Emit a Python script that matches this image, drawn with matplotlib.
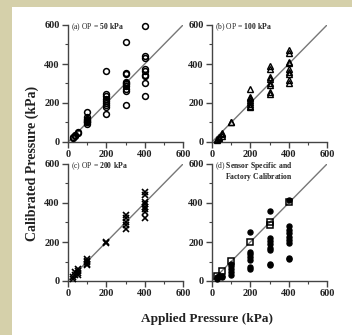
import matplotlib
matplotlib.use("Agg")
import matplotlib.pyplot as plt
from matplotlib.patches import Rectangle
from matplotlib.ticker import MultipleLocator

plt.rcParams['font.family'] = ['Liberation Serif', 'DejaVu Serif']
plt.rcParams['mathtext.fontset'] = 'custom'
plt.rcParams['mathtext.rm'] = 'Liberation Serif'
plt.rcParams['mathtext.bf'] = 'Liberation Serif:bold'

# ---- data (applied pressure level -> calibrated values) ----
a_levels = [25, 35, 50, 100, 200, 300, 400]
a_vals = [[22, 28], [32, 38], [45, 52],
          [155, 130, 120, 115, 110, 105, 100, 90],
          [365, 245, 235, 220, 210, 200, 190, 180, 145],
          [515, 355, 350, 310, 300, 295, 285, 270, 260, 190],
          [595, 440, 430, 375, 365, 345, 340, 300, 237]]

b_levels = [25, 35, 50, 100, 200, 300, 400]
b_vals = [[10, 15], [20, 27], [31, 41, 48],
          [100, 104],
          [270, 232, 224, 215, 203, 195, 185, 178],
          [390, 373, 332, 321, 304, 292, 258, 246],
          [472, 458, 412, 403, 373, 361, 349, 318, 304]]

c_levels = [25, 35, 50, 100, 200, 300, 400]
c_vals = [[10, 19], [31, 45], [31, 41, 53, 62],
          [114, 105, 100, 88, 80],
          [200, 197],
          [338, 321, 303, 286, 269],
          [455, 441, 407, 393, 381, 369, 355, 324]]

d_sq_levels = [25, 50, 100, 200, 300, 400]
d_sq_vals = [[28], [49], [103], [198], [289, 303], [403]]

d_dot_levels = [25, 35, 50, 100, 200, 300, 400]
d_dot_vals = [[10, 19], [24], [19, 28],
              [89, 77, 63, 45, 31],
              [249, 150, 136, 122, 110, 71, 63],
              [358, 219, 205, 188, 170, 158, 89, 80],
              [415, 280, 263, 245, 228, 210, 193, 118, 111]]

ticks = [0, 200, 400, 600]
titles = [r'(a) OP = $\mathbf{50\ kPa}$',
          r'(b) OP = $\mathbf{100\ kPa}$',
          r'(c) OP = $\mathbf{200\ kPa}$',
          '(d) $\\mathbf{Sensor\\ Specific\\ and}$\n'
          '$\\mathbf{Factory\\ Calibration}$']


def flatten(levels, vals):
    xs, ys = [], []
    for lv, vs in zip(levels, vals):
        for v in vs:
            xs.append(lv)
            ys.append(v)
    return xs, ys


W, H = 352, 335
fig = plt.figure(figsize=(W / 100, H / 100), dpi=100)
fig.patch.set_facecolor('#d5d0aa')
fig.add_artist(Rectangle((12 / W, 0), 1 - 12 / W, (H - 7) / H,
                         transform=fig.transFigure, facecolor='white',
                         edgecolor='none', zorder=0))


def make_ax(left_px, top_px, ttl):
    w = 115 / W
    h = 117 / H
    ax = fig.add_axes([left_px / W, 1 - (top_px + 117) / H, w, h])
    ax.set_facecolor('none')
    for s in ['top', 'right']:
        ax.spines[s].set_visible(False)
    for s in ['left', 'bottom']:
        ax.spines[s].set_color('#444444')
        ax.spines[s].set_linewidth(1.0)
    ax.set_xlim(0, 600)
    ax.set_ylim(0, 600)
    ax.set_xticks(ticks)
    ax.set_yticks(ticks)
    ax.xaxis.set_minor_locator(MultipleLocator(100))
    ax.yaxis.set_minor_locator(MultipleLocator(100))
    ax.tick_params(which='major', direction='out', length=4, width=1,
                   color='#444444', labelsize=7.5, pad=2)
    ax.tick_params(which='minor', direction='out', length=2, width=0.8,
                   color='#444444')
    for lab in ax.get_xticklabels() + ax.get_yticklabels():
        lab.set_fontweight('bold')
        lab.set_color('#222222')
    ax.plot([0, 600], [0, 600], color='#777777', lw=1.0, zorder=1)
    ax.text(0.03, 1.0 + 0.035, ttl, transform=ax.transAxes, fontsize=5.5,
            va='top', ha='left', multialignment='right', color='#222222',
            linespacing=0.85)
    return ax


ax_a = make_ax(68, 25, titles[0])
ax_b = make_ax(212, 25, titles[1])
ax_c = make_ax(68, 164, titles[2])
ax_d = make_ax(212, 164, titles[3])

x, y = flatten(a_levels, a_vals)
ax_a.plot(x, y, 'o', ms=4.2, mfc='none', mec='black', mew=1.1, zorder=3,
          clip_on=False)

x, y = flatten(b_levels, b_vals)
ax_b.plot(x, y, '^', ms=4.2, mfc='none', mec='black', mew=1.0, zorder=3,
          clip_on=False)

x, y = flatten(c_levels, c_vals)
ax_c.plot(x, y, 'x', ms=4.0, mec='black', mew=1.2, zorder=3, clip_on=False)

x, y = flatten(d_dot_levels, d_dot_vals)
ax_d.plot(x, y, 'o', ms=3.6, mfc='black', mec='black', zorder=3,
          clip_on=False)
x, y = flatten(d_sq_levels, d_sq_vals)
ax_d.plot(x, y, 's', ms=4.4, mfc='none', mec='black', mew=1.1, zorder=4,
          clip_on=False)

fig.text(207 / W, 1 - 319 / H, 'Applied Pressure (kPa)', fontsize=9.5,
         fontweight='bold', ha='center', va='center', color='#222222')
fig.text(32 / W, 1 - 163 / H, 'Calibrated Pressure (kPa)', fontsize=10,
         fontweight='bold', ha='center', va='center', rotation=90,
         color='#222222')

fig.savefig('out.png', dpi=100, facecolor=fig.get_facecolor())
